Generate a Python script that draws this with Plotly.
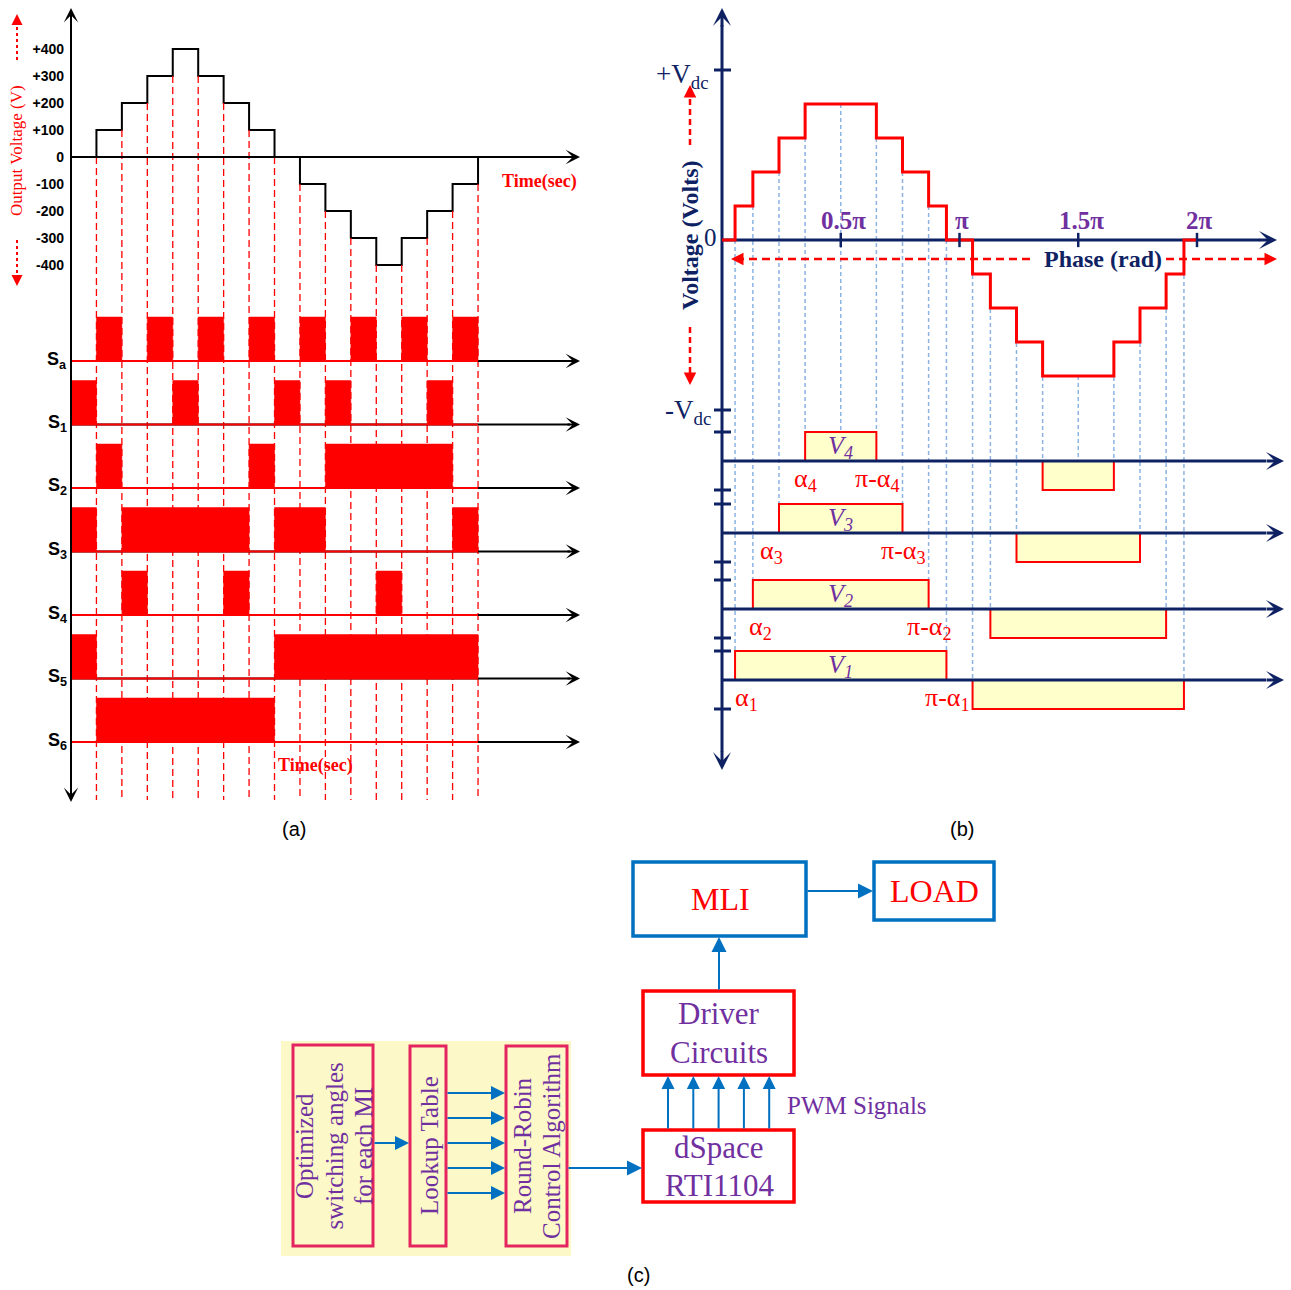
import plotly.graph_objects as go

W, H = 1291, 1290

# ================= DATA =================
# ---- panel (a): 9-level output voltage and switching signals ----
a_switch_times = [0, 1, 2, 3, 4, 5, 6, 7, 8, 9, 10, 11, 12, 13, 14, 15, 16]
a_levels = [0, 100, 200, 300, 400, 300, 200, 100, 0, -100, -200, -300, -400, -300, -200, -100, 0]
a_tick_vals = [400, 300, 200, 100, 0, -100, -200, -300, -400]
a_tick_text = ["+400", "+300", "+200", "+100", "0", "-100", "-200", "-300", "-400"]
a_signal_names = ["a", "1", "2", "3", "4", "5", "6"]
pulses_Sa = [(1, 2), (3, 4), (5, 6), (7, 8), (9, 10), (11, 12), (13, 14), (15, 16)]
pulses_S1 = [(0, 1), (4, 5), (8, 9), (10, 11), (14, 15)]
pulses_S2 = [(1, 2), (7, 8), (10, 15)]
pulses_S3 = [(0, 1), (2, 7), (8, 10), (15, 16)]
pulses_S4 = [(2, 3), (6, 7), (12, 13)]
pulses_S5 = [(0, 1), (8, 16)]
pulses_S6 = [(1, 8)]
a_pulse_sets = [pulses_Sa, pulses_S1, pulses_S2, pulses_S3, pulses_S4, pulses_S5, pulses_S6]

# ---- panel (b): staircase vs phase (phase in units of pi) ----
b_alphas = [0.055, 0.13, 0.24, 0.35]          # alpha1..alpha4
b_step_levels = [0, 1, 2, 3, 4, 3, 2, 1, 0, -1, -2, -3, -4, -3, -2, -1, 0, 0]
b_end_phase = 2.0
b_phase_ticks = [0.5, 1.0, 1.5, 2.0]
b_phase_text = ["0.5π", "π", "1.5π", "2π"]
b_vdc = 5
b_band_names = ["1", "2", "3", "4"]

# ---- panel (c): block diagram ----
c_pwm_signals = 5
c_lut_outputs = 5
c_opt_lines = ["Optimized", "switching angles", "for each MI"]
c_rr_lines = ["Round-Robin", "Control Algorithm"]

# ================= STYLE / GEOMETRY =================
NAVY = "#0e2263"
RED = "#ff0000"
PURPLE = "#7030a0"
BLUE = "#0070c0"
PINK = "#e3245f"
LBLUE = "#8db3e2"
SERIF = "Liberation Serif"
SANS = "Liberation Sans"

A_T0, A_DT = 71, 25.44
A_V0, A_PXV = 157, 0.27
A_LANE0, A_LANE_STEP, A_PULSE_H = 361, 63.5, 44


def at(px):
    return (px - A_T0) / A_DT


def av(py):
    return (A_V0 - py) / A_PXV


B_X0, B_PI = 722, 237.5
B_Y0, B_PXL = 240, 34
B_LANES_PX = [680, 609, 533, 461]
B_BOX_H = 29 / 34


def bp(px):
    return (px - B_X0) / B_PI


def bl(py):
    return (B_Y0 - py) / B_PXL


def dom_x(p0, p1):
    return [p0 / W, p1 / W]


def dom_y(top, bottom):
    return [1 - bottom / H, 1 - top / H]


shapes = []
ann = []


def seg(x0, y0, x1, y1, xr, yr, color, width, dash="solid", layer="above"):
    shapes.append(dict(type="line", x0=x0, y0=y0, x1=x1, y1=y1, xref=xr, yref=yr,
                       line=dict(color=color, width=width, dash=dash), layer=layer))


def rect(x0, y0, x1, y1, xr, yr, fill, color, width, layer="above"):
    shapes.append(dict(type="rect", x0=x0, y0=y0, x1=x1, y1=y1, xref=xr, yref=yr,
                       fillcolor=fill, line=dict(color=color, width=width), layer=layer))


def label(px, py, text, size, color, family=SERIF, xanchor="center", yanchor="middle", angle=0):
    ann.append(dict(x=px / W, y=1 - py / H, xref="paper", yref="paper", text=text, showarrow=False,
                    font=dict(family=family, size=size, color=color), xanchor=xanchor,
                    yanchor=yanchor, textangle=angle))


def dlabel(x, y, xr, yr, text, size, color, family=SERIF, xanchor="center", yanchor="middle", angle=0):
    ann.append(dict(x=x, y=y, xref=xr, yref=yr, text=text, showarrow=False,
                    font=dict(family=family, size=size, color=color), xanchor=xanchor,
                    yanchor=yanchor, textangle=angle))


def arrow(x, y, ax, ay, xr, yr, color, width, style, size):
    ann.append(dict(x=x, y=y, ax=ax, ay=ay, xref=xr, yref=yr, axref=xr, ayref=yr, text="",
                    showarrow=True, arrowhead=style, arrowsize=size, arrowwidth=width,
                    arrowcolor=color))


def head_px(px, py, dx, dy, color, width, style, size):
    ann.append(dict(x=px / W, y=1 - py / H, xref="paper", yref="paper", ax=dx, ay=dy,
                    axref="pixel", ayref="pixel", text="", showarrow=True, arrowhead=style,
                    arrowsize=size, arrowwidth=width, arrowcolor=color))


fig = go.Figure()

# ================= PANEL (a) =================
fig.add_trace(go.Scatter(x=a_switch_times, y=a_levels, mode="lines",
                         line=dict(color="black", width=2, shape="hv"),
                         xaxis="x", yaxis="y", hoverinfo="skip", showlegend=False))

for k in range(1, len(a_switch_times)):
    lo = min(a_levels[k - 1], a_levels[k])
    seg(a_switch_times[k], lo, a_switch_times[k], av(800), "x", "y", RED, 1.3, "7px,4px")

for i, pulses in enumerate(a_pulse_sets):
    base_px = A_LANE0 + i * A_LANE_STEP
    base = av(base_px)
    top = av(base_px - A_PULSE_H)
    seg(0, base, at(570), base, "x", "y", "black", 2)
    for (t0, t1) in pulses:
        rect(t0, base, t1, top, "x", "y", RED, RED, 0.5)
    seg(0, base, a_switch_times[-1], base, "x", "y", RED, 2)
    arrow(at(580), base, at(566), base, "x", "y", "black", 2, 3, 1.2)
    label(69, base_px - 1, "<b>S<sub>%s</sub></b>" % a_signal_names[i], 18, "black", SANS, xanchor="right")

# axes of panel (a)
seg(0, 0, at(570), 0, "x", "y", "black", 2)
arrow(at(580), 0, at(566), 0, "x", "y", "black", 2, 3, 1.2)
seg(0, av(20), 0, av(790), "x", "y", "black", 2)
arrow(0, av(8), 0, av(22), "x", "y", "black", 2, 3, 1.2)
arrow(0, av(802), 0, av(788), "x", "y", "black", 2, 3, 1.2)

label(17, 151, "Output Voltage (V)", 17, RED, SERIF, angle=-90)
seg(17 / W, 1 - 60 / H, 17 / W, 1 - 24 / H, "paper", "paper", RED, 2, "dot")
head_px(17, 14, 0, 8, RED, 2, 2, 1.1)
seg(17 / W, 1 - 240 / H, 17 / W, 1 - 276 / H, "paper", "paper", RED, 2, "dot")
head_px(17, 286, 0, -8, RED, 2, 2, 1.1)
label(539, 182, "<b>Time(sec)</b>", 18, RED, SERIF)
label(315, 765, "<b>Time(sec)</b>", 18, RED, SERIF)
label(294, 829, "(a)", 20, "black", SANS)

# ================= PANEL (b) =================
lane_L = [bl(p) for p in B_LANES_PX]

# dotted projection lines
for k, a in enumerate(b_alphas):
    for ph in (a, 1 - a):
        seg(ph, k, ph, lane_L[k] + B_BOX_H, "x2", "y2", LBLUE, 1.5, "4px,3px", "below")
    for ph in (1 + a, 2 - a):
        seg(ph, -k, ph, lane_L[k], "x2", "y2", LBLUE, 1.5, "4px,3px", "below")
seg(0.5, 4, 0.5, lane_L[3] + B_BOX_H, "x2", "y2", LBLUE, 1.5, "4px,3px", "below")
seg(1.5, -4, 1.5, lane_L[3], "x2", "y2", LBLUE, 1.5, "4px,3px", "below")

# axes
seg(0, bl(25), 0, bl(752), "x2", "y2", NAVY, 3, layer="below")
arrow(0, bl(8), 0, bl(28), "x2", "y2", NAVY, 3, 3, 1.0)
arrow(0, bl(770), 0, bl(750), "x2", "y2", NAVY, 3, 3, 1.0)
seg(0, 0, bp(1260), 0, "x2", "y2", NAVY, 3, layer="below")
arrow(bp(1277), 0, bp(1258), 0, "x2", "y2", NAVY, 3, 3, 1.0)

# staircase
b_edges = [0.0] + b_alphas + [1 - a for a in reversed(b_alphas)] + \
          [1 + a for a in b_alphas] + [2 - a for a in reversed(b_alphas)] + [b_end_phase]
fig.add_trace(go.Scatter(x=b_edges, y=b_step_levels, mode="lines",
                         line=dict(color=RED, width=3, shape="hv"),
                         xaxis="x2", yaxis="y2", hoverinfo="skip", showlegend=False))

# phase ticks
for ph, tx in zip(b_phase_ticks, b_phase_text):
    seg(ph, 0.21, ph, -0.21, "x2", "y2", NAVY, 2.5)
    dlabel(ph + 0.012, bl(220), "x2", "y2", "<b>%s</b>" % tx, 25, PURPLE)

# vertical ticks
vticks = [b_vdc, -b_vdc]
for L in lane_L:
    vticks += [L + B_BOX_H, L - B_BOX_H]
for v in vticks:
    seg(bp(714), v, bp(731), v, "x2", "y2", NAVY, 3)

# band boxes and lanes
alpha_dx = [0.05, 0.03, -0.03, 0.0]
for k, a in enumerate(b_alphas):
    L = lane_L[k]
    rect(a, L, 1 - a, L + B_BOX_H, "x2", "y2", "#ffffcc", RED, 2)
    rect(1 + a, L - B_BOX_H, 2 - a, L, "x2", "y2", "#ffffcc", RED, 2)
    seg(0, L, bp(1266), L, "x2", "y2", NAVY, 3)
    arrow(bp(1284), L, bp(1265), L, "x2", "y2", NAVY, 3, 3, 1.0)
    dlabel(0.5, L + B_BOX_H / 2, "x2", "y2", "<i>V<sub>%s</sub></i>" % b_band_names[k], 26, PURPLE)
    dlabel(a + alpha_dx[k], L - 0.55, "x2", "y2", "α<sub>%s</sub>" % b_band_names[k], 26, RED)
    dlabel(1 - a + 0.005, L - 0.55, "x2", "y2", "π-α<sub>%s</sub>" % b_band_names[k], 26, RED)

# texts of panel (b)
label(683, 76, "+V<sub>dc</sub>", 27, NAVY, SERIF)
label(688, 412, "-V<sub>dc</sub>", 27, NAVY, SERIF)
label(710, 237, "0", 25, NAVY, SERIF)
label(690, 235, "<b>Voltage (Volts)</b>", 24, NAVY, SERIF, angle=-90)
label(1103, 259, "<b>Phase (rad)</b>", 24, NAVY, SERIF)

seg(690 / W, 1 - 145 / H, 690 / W, 1 - 96 / H, "paper", "paper", RED, 2.5, "6px,4px")
head_px(690, 85, 0, 10, RED, 2.5, 2, 1.0)
seg(690 / W, 1 - 327 / H, 690 / W, 1 - 374 / H, "paper", "paper", RED, 2.5, "6px,4px")
head_px(690, 385, 0, -10, RED, 2.5, 2, 1.0)
seg(1030 / W, 1 - 259 / H, 742 / W, 1 - 259 / H, "paper", "paper", RED, 2.5, "8px,5px")
head_px(731, 259, 10, 0, RED, 2.5, 2, 1.0)
seg(1166 / W, 1 - 259 / H, 1266 / W, 1 - 259 / H, "paper", "paper", RED, 2.5, "8px,5px")
head_px(1277, 259, -10, 0, RED, 2.5, 2, 1.0)
label(962, 829, "(b)", 20, "black", SANS)

# ================= PANEL (c) =================
fig.add_trace(go.Scatter(x=[300], y=[900], mode="markers", marker=dict(opacity=0),
                         xaxis="x3", yaxis="y3", hoverinfo="skip", showlegend=False))

X3, Y3 = "x3", "y3"
rect(281, 1041, 571, 1256, X3, Y3, "#fcf8c8", "#fcf8c8", 0)
rect(293, 1045, 373, 1246, X3, Y3, "rgba(0,0,0,0)", PINK, 3)
rect(410, 1046, 446, 1246, X3, Y3, "rgba(0,0,0,0)", PINK, 3)
rect(506, 1046, 567, 1246, X3, Y3, "rgba(0,0,0,0)", PINK, 3)
rect(633, 862, 806, 936, X3, Y3, "rgba(0,0,0,0)", BLUE, 3.5)
rect(874, 862, 994, 920, X3, Y3, "rgba(0,0,0,0)", BLUE, 3.5)
rect(643, 991, 794, 1075, X3, Y3, "rgba(0,0,0,0)", RED, 3.5)
rect(643, 1130, 794, 1202, X3, Y3, "rgba(0,0,0,0)", RED, 3.5)

for j, line in enumerate(c_opt_lines):
    dlabel(304 + j * 29.5, 1146, X3, Y3, line, 25, PURPLE, angle=-90)
dlabel(429, 1146, X3, Y3, "Lookup Table", 25, PURPLE, angle=-90)
for j, line in enumerate(c_rr_lines):
    dlabel(522 + j * 29, 1146, X3, Y3, line, 25, PURPLE, angle=-90)
dlabel(720, 899, X3, Y3, "MLI", 32, RED)
dlabel(934, 891, X3, Y3, "LOAD", 32, RED)
dlabel(719, 1014, X3, Y3, "Driver", 31, PURPLE)
dlabel(719, 1052, X3, Y3, "Circuits", 31, PURPLE)
dlabel(719, 1147, X3, Y3, "dSpace", 31, PURPLE)
dlabel(719, 1185, X3, Y3, "RTI1104", 31, PURPLE)
dlabel(785, 1105, X3, Y3, "PWM Signals", 25, PURPLE, xanchor="left")

arrow(873, 891, 806, 891, X3, Y3, BLUE, 2, 2, 1.5)
arrow(719, 937, 719, 991, X3, Y3, BLUE, 2, 2, 1.5)
for j in range(c_pwm_signals):
    xx = 668 + j * 25.3
    arrow(xx, 1076, xx, 1130, X3, Y3, BLUE, 2, 2, 1.3)
arrow(409, 1143, 373, 1143, X3, Y3, BLUE, 2, 2, 1.4)
for j in range(c_lut_outputs):
    yy = 1093 + j * 25
    arrow(505, yy, 446, yy, X3, Y3, BLUE, 2, 2, 1.4)
arrow(642, 1168, 567, 1168, X3, Y3, BLUE, 2, 2, 1.5)
label(638, 1275, "(c)", 20, "black", SANS)

# ================= LAYOUT =================
fig.update_layout(
    width=W, height=H, margin=dict(l=0, r=0, t=0, b=0),
    paper_bgcolor="white", plot_bgcolor="rgba(0,0,0,0)", showlegend=False,
    xaxis=dict(domain=dom_x(20, 620), range=[at(20), at(620)], visible=False, anchor="y"),
    yaxis=dict(domain=dom_y(5, 815), range=[av(815), av(5)], anchor="free", position=71 / W,
               tickvals=a_tick_vals, ticktext=["<b>%s</b>" % t for t in a_tick_text],
               showgrid=False, zeroline=False, showline=False, ticks="",
               ticklabelstandoff=7,
               tickfont=dict(family=SANS, size=14, color="black")),
    xaxis2=dict(domain=dom_x(640, 1291), range=[bp(640), bp(1291)], visible=False, anchor="y2"),
    yaxis2=dict(domain=dom_y(0, 800), range=[bl(800), bl(0)], visible=False, anchor="x2"),
    xaxis3=dict(domain=dom_x(270, 1010), range=[270, 1010], visible=False, anchor="y3"),
    yaxis3=dict(domain=dom_y(850, 1290), range=[1290, 850], visible=False, anchor="x3"),
    shapes=shapes, annotations=ann,
)

fig.write_html("out.html", config={"displayModeBar": False},
               post_script="document.body.style.margin='0px';document.body.style.overflow='hidden';")
